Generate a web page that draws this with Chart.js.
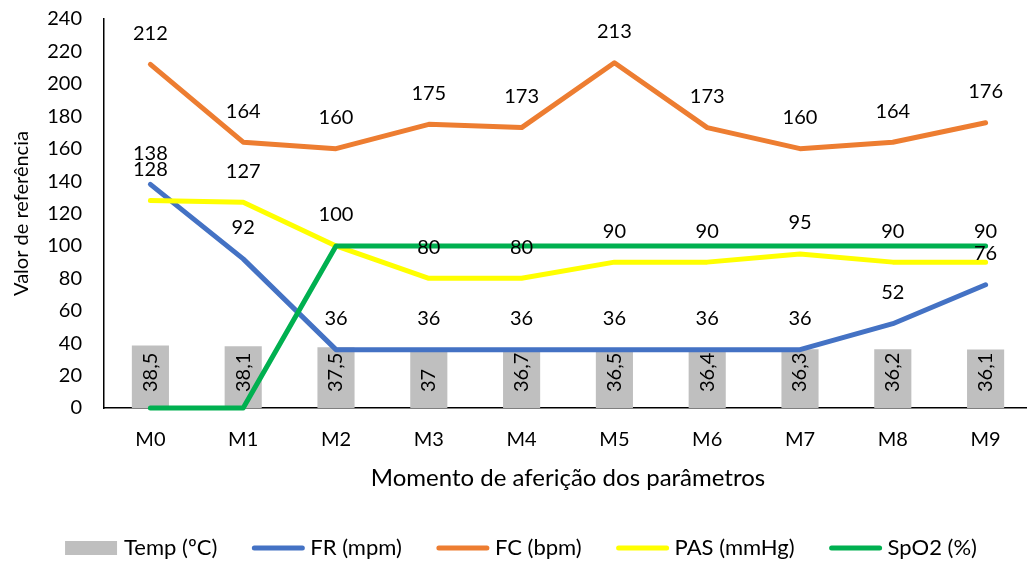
<!DOCTYPE html>
<html>
<head>
<meta charset="utf-8">
<script src="https://cdn.jsdelivr.net/npm/chart.js@4.4.0/dist/chart.umd.min.js"></script>
<style>
  body { margin: 0; background: #fff; overflow: hidden; }
  #wrap { width: 1033px; height: 563px; }
</style>
</head>
<body>
<div id="wrap"><canvas id="chart"></canvas></div>
<script>
const labels = ['M0', 'M1', 'M2', 'M3', 'M4', 'M5', 'M6', 'M7', 'M8', 'M9'];
const temp = [38.5, 38.1, 37.5, 37, 36.7, 36.5, 36.4, 36.3, 36.2, 36.1];
const fr = [138, 92, 36, 36, 36, 36, 36, 36, 52, 76];
const fc = [212, 164, 160, 175, 173, 213, 173, 160, 164, 176];
const pas = [128, 127, 100, 80, 80, 90, 90, 95, 90, 90];
const spo2 = [0, 0, 100, 100, 100, 100, 100, 100, 100, 100];

Chart.defaults.font.family = 'Lato, "Open Sans", sans-serif';
Chart.defaults.color = '#000';

const fmt = v => String(v).replace('.', ',');

// value labels: above the line points, rotated inside the bars
const valueLabels = {
    id: 'valueLabels',
    afterDatasetsDraw(chart) {
        const ctx = chart.ctx;
        ctx.save();
        ctx.fillStyle = '#000';
        ctx.font = '20px Lato, sans-serif';
        chart.data.datasets.forEach((ds, i) => {
            if (!ds.showLabels) return;
            const meta = chart.getDatasetMeta(i);
            meta.data.forEach((el, j) => {
                const txt = fmt(ds.data[j]);
                if (ds.type === 'bar') {
                    ctx.save();
                    ctx.translate(el.x, el.base - 16);
                    ctx.rotate(-Math.PI / 2);
                    ctx.textAlign = 'left';
                    ctx.textBaseline = 'middle';
                    ctx.fillText(txt, 0, 0);
                    ctx.restore();
                } else {
                    ctx.textAlign = 'center';
                    ctx.textBaseline = 'middle';
                    ctx.fillText(txt, el.x, el.y - 31);
                }
            });
        });
        ctx.restore();
    }
};

// legend row under the axis title
const legendRow = {
    id: 'legendRow',
    afterDraw(chart) {
        const ctx = chart.ctx;
        const y = 548;
        const mark = 54, gapText = 5, gapItem = 34;
        ctx.save();
        ctx.font = '22px Lato, sans-serif';
        ctx.textBaseline = 'middle';
        ctx.textAlign = 'left';
        const items = chart.data.datasets.map(ds => ({
            text: ds.label, color: ds.legendColor, bar: ds.type === 'bar'
        }));
        let total = 0;
        items.forEach((it, k) => {
            it.w = mark + gapText + ctx.measureText(it.text).width;
            total += it.w + (k ? gapItem : 0);
        });
        let x = 521 - total / 2;
        items.forEach(it => {
            if (it.bar) {
                ctx.fillStyle = it.color;
                ctx.fillRect(x, y - 7, mark - 2, 14);
            } else {
                ctx.strokeStyle = it.color;
                ctx.lineWidth = 5;
                ctx.lineCap = 'round';
                ctx.beginPath();
                ctx.moveTo(x + 3, y);
                ctx.lineTo(x + mark - 3, y);
                ctx.stroke();
            }
            ctx.fillStyle = '#000';
            ctx.fillText(it.text, x + mark + gapText, y);
            x += it.w + gapItem;
        });
        ctx.restore();
    }
};

const lineDs = (label, data, color, order, showLabels) => ({
    type: 'line',
    label: label,
    data: data,
    borderColor: color,
    backgroundColor: color,
    legendColor: color,
    borderWidth: 5,
    borderCapStyle: 'round',
    borderJoinStyle: 'round',
    pointRadius: 0,
    tension: 0,
    clip: false,
    order: order,
    showLabels: showLabels
});

new Chart(document.getElementById('chart'), {
    data: {
        labels: labels,
        datasets: [
            {
                type: 'bar',
                label: 'Temp (ºC)',
                data: temp,
                backgroundColor: '#BFBFBF',
                legendColor: '#BFBFBF',
                categoryPercentage: 0.8,
                barPercentage: 0.5,
                order: 5,
                showLabels: true
            },
            lineDs('FR (mpm)', fr, '#4472C4', 4, true),
            lineDs('FC (bpm)', fc, '#ED7D31', 3, true),
            lineDs('PAS (mmHg)', pas, '#FFFF00', 2, true),
            lineDs('SpO2 (%)', spo2, '#00B050', 1, false)
        ]
    },
    options: {
        responsive: true,
        maintainAspectRatio: false,
        animation: false,
        layout: { padding: { top: 19, right: 1, bottom: 65, left: 0 } },
        plugins: {
            legend: { display: false },
            tooltip: { enabled: false }
        },
        scales: {
            x: {
                grid: { display: false, drawTicks: false },
                border: { display: true, color: '#000', width: 1.5 },
                ticks: { padding: 20, font: { size: 20 }, color: '#000' },
                title: {
                    display: true,
                    text: 'Momento de aferição dos parâmetros',
                    font: { size: 24 },
                    color: '#000',
                    padding: { top: 0, bottom: 5 }
                },
                afterFit: s => { s.height = 90; }
            },
            y: {
                min: 0,
                max: 240,
                grid: { display: false, drawTicks: true, tickLength: 20 },
                border: { display: true, color: '#000', width: 1.5 },
                ticks: { stepSize: 20, padding: 2, font: { size: 20 }, color: '#000' },
                title: {
                    display: true,
                    text: 'Valor de referência',
                    font: { size: 20 },
                    color: '#000',
                    padding: { top: 10, bottom: 0 }
                },
                afterFit: s => { s.width = 104; }
            }
        }
    },
    plugins: [valueLabels, legendRow]
});
</script>
</body>
</html>
